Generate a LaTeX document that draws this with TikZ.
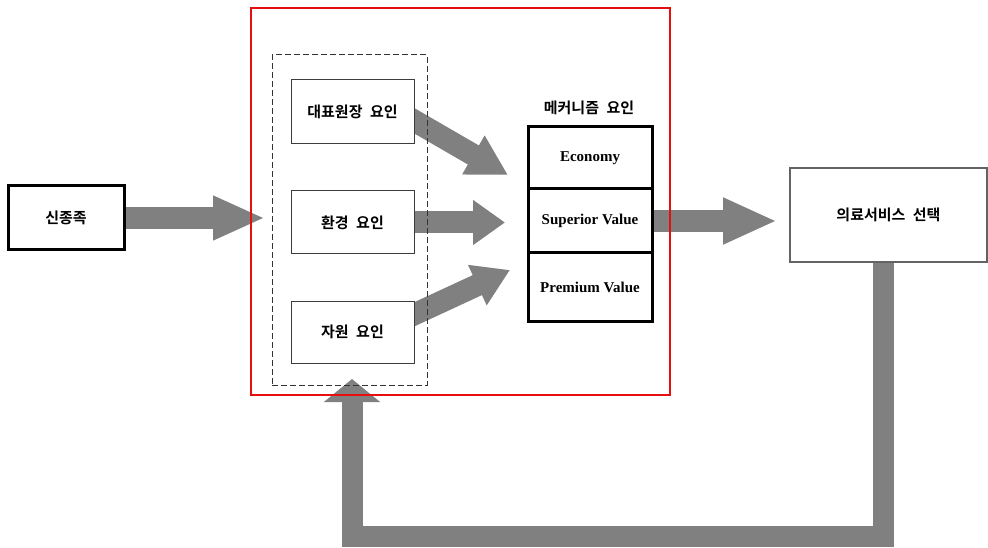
\documentclass[tikz,border=0pt]{standalone}
\usepackage{fontspec}
\setmainfont{Liberation Serif}
\newfontfamily\kr{Noto Sans CJK KR}[BoldFont={Noto Sans CJK KR Bold}, WordSpace=2.2]
\usetikzlibrary{arrows.meta}
\pgfdeclarelayer{bg}
\pgfsetlayers{bg,main}
\definecolor{arrowgray}{RGB}{128,128,128}
\definecolor{framered}{RGB}{230,15,15}
\definecolor{boxgray}{RGB}{60,60,60}
\tikzset{
  krtext/.style={font=\kr\bfseries\fontsize{15pt}{17pt}\selectfont},
  entext/.style={font=\bfseries\fontsize{15pt}{17pt}\selectfont},
  thickbox/.style={draw=black, line width=3pt, inner sep=0pt},
  thinbox/.style={draw=boxgray, line width=1pt, fill=white, inner sep=0pt},
  fatarrow/.style={draw=arrowgray, line width=22pt, line cap=butt, line join=miter},
  redframe/.style={draw=framered, line width=2.5pt, inner sep=0pt},
  dashframe/.style={draw=black!80, line width=1pt, dash pattern=on 6pt off 3pt, inner sep=0pt}
}
\begin{document}
\begin{tikzpicture}[x=1pt,y=-1pt]
\useasboundingbox (0,0) rectangle (988,548);
% frames
\node[redframe, minimum width=419pt, minimum height=387pt] (red) at (460.5,201.5) {};
\node[dashframe, minimum width=155pt, minimum height=330pt] (dash) at (349.5,220) {};
% boxes
\node[thickbox, krtext, minimum width=116pt, minimum height=64pt] (sj) at (66,218) {신종족};
\node[thinbox, krtext, minimum width=123pt, minimum height=64pt] (f1) at (352.5,112) {대표원장 요인};
\node[thinbox, krtext, minimum width=123pt, minimum height=63pt] (f2) at (352.5,222.5) {환경 요인};
\node[thinbox, krtext, minimum width=123pt, minimum height=62pt] (f3) at (352.5,332) {자원 요인};
\node[krtext] (mlabel) at (589,108) {메커니즘 요인};
\node[thickbox, entext, minimum width=124pt, minimum height=62pt] (m1) at (590,158) {Economy};
\node[thickbox, entext, minimum width=124pt, minimum height=64pt] (m2) at (590,221) {Superior Value};
\node[thickbox, entext, minimum width=124pt, minimum height=68pt] (m3) at (590,287) {Premium Value};
\node[draw=boxgray!80, line width=1.2pt, krtext, inner sep=0pt, minimum width=197pt, minimum height=94pt] (svc) at (888.5,215) {의료서비스 선택};
% arrow end points
\coordinate (t1) at (265,218);
\coordinate (t2) at (508,175);
\coordinate (t4) at (510,270);
\coordinate (t5) at (777,221);
\coordinate (t6) at (352,379);
\begin{pgfonlayer}{bg}
\draw[fatarrow, -{Triangle[length=52pt,width=41pt]}] (sj.east) -- (t1);
\draw[fatarrow, -{Triangle[length=40pt,width=42pt]}] ([xshift=-5pt,yshift=-6pt]f1.east) -- (t2);
\draw[fatarrow, -{Triangle[length=32pt,width=43pt]}] (f2.east) -- (f2.east -| 505,0);
\draw[fatarrow, -{Triangle[length=36pt,width=42pt]}] ([xshift=-6pt,yshift=15pt]f3.east) -- (t4);
\draw[fatarrow, -{Triangle[length=54pt,width=43pt]}] (m2.east) -- (t5);
\draw[fatarrow, line width=21pt, -{Triangle[length=23pt,width=55pt]}] ([xshift=-5.5pt]svc.south) -- ++(0,274) -| (t6);
\end{pgfonlayer}
\end{tikzpicture}
\end{document}
